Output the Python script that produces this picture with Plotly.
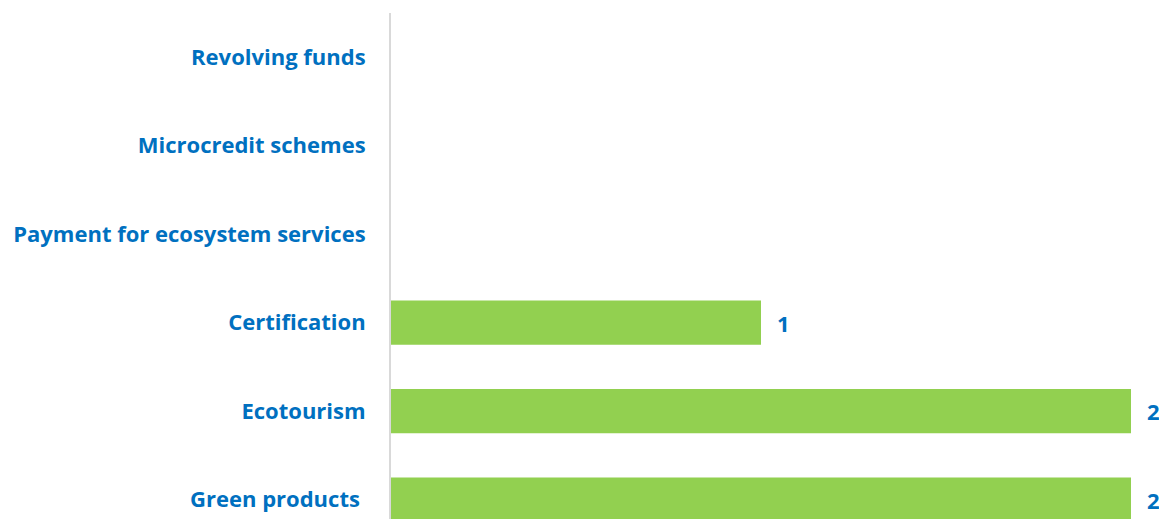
import plotly.graph_objects as go

categories = ["Revolving funds", "Microcredit schemes", "Payment for ecosystem services",
              "Certification", "Ecotourism", "Green products\u00a0"]
values = [0, 0, 0, 1, 2, 2]

BAR = "#92D050"
TXT = "#0070C0"
FONT = "Open Sans"

pos = list(range(len(categories)))

fig = go.Figure()
fig.add_trace(go.Bar(
    x=values, y=pos, orientation="h", width=0.5,
    marker=dict(color=BAR, line=dict(width=0)),
    hoverinfo="skip", showlegend=False,
))

for v, p in zip(values, pos):
    if v:
        fig.add_annotation(x=v, y=p, text=f"<b>{v}</b>", showarrow=False,
                           xanchor="left", xshift=14,
                           font=dict(family=FONT, size=22, color=TXT))

# page body adds an 8px margin, so the figure is sized/offset to compensate
fig.update_layout(
    width=1159, height=511,
    margin=dict(l=383, r=0, t=5, b=0),
    paper_bgcolor="white", plot_bgcolor="white",
    xaxis=dict(range=[0, 776 / 370], showgrid=False, zeroline=False,
               showticklabels=False, ticks="", showline=False, fixedrange=True),
    yaxis=dict(range=[5.22, -0.5], tickmode="array", tickvals=pos,
               ticktext=[f"<b>{c}</b>" for c in categories],
               tickfont=dict(family=FONT, size=22, color=TXT),
               ticks="", ticklabelstandoff=19, showgrid=False, zeroline=False,
               showline=True, linecolor="#D9D9D9", linewidth=2, fixedrange=True),
)

fig.write_html("out.html")
